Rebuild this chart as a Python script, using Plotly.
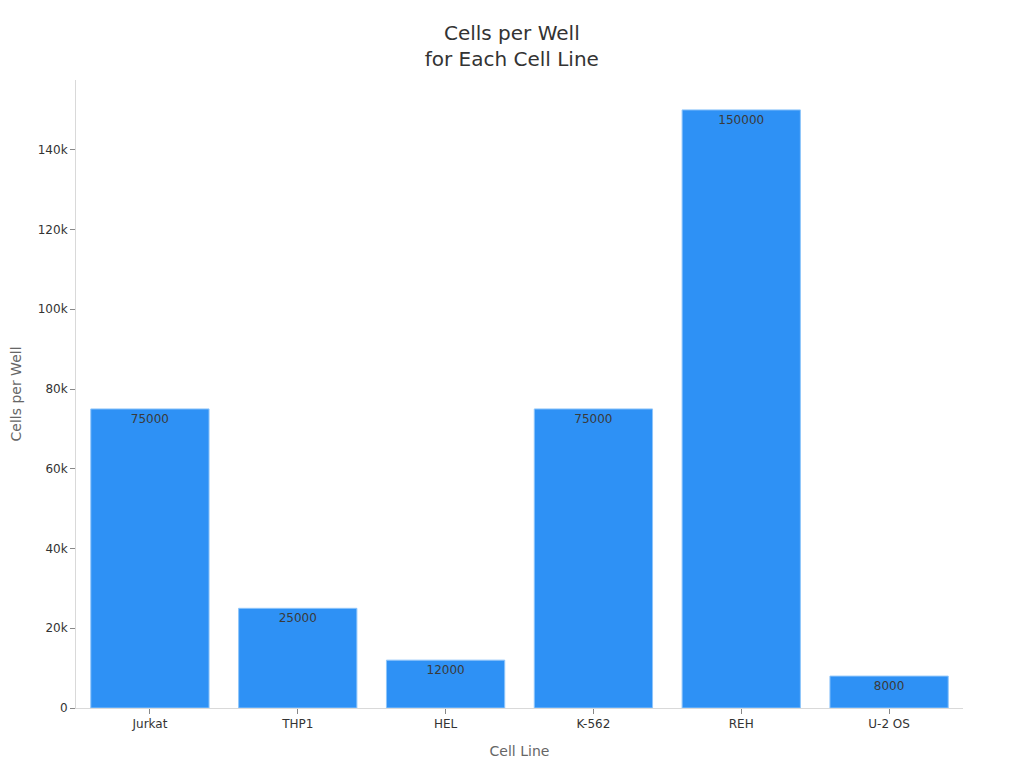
import plotly.graph_objects as go

# data
cell_lines = ['Jurkat', 'THP1', 'HEL', 'K-562', 'REH', 'U-2 OS']
cells_per_well = [75000, 25000, 12000, 75000, 150000, 8000]

bars = go.Bar(
    x=cell_lines,
    y=cells_per_well,
    text=cells_per_well,
    textposition='inside',
    insidetextanchor='end',
    textfont=dict(color='#3a3a3a', size=12),
    marker=dict(color='#2E91F5', line=dict(color='#8EC5FA', width=1)),
    width=0.8,
)

layout = go.Layout(
    width=1024,
    height=768,
    font=dict(family='DejaVu Sans', size=12, color='#333333'),
    title=dict(
        text='Cells per Well<br>for Each Cell Line',
        x=0.492,
        xanchor='center',
        y=0.958,
        yanchor='middle',
        font=dict(size=20, color='#333333'),
    ),
    plot_bgcolor='white',
    paper_bgcolor='white',
    margin=dict(l=68, r=69, t=72, b=68),
    xaxis=dict(
        title=dict(text='Cell Line', font=dict(size=14, color='#666666')),
        showline=True,
        linecolor='#d9d9d9',
        ticks='outside',
        tickcolor='#888888',
        ticklen=5,
        showgrid=False,
    ),
    yaxis=dict(
        title=dict(text='Cells per Well', font=dict(size=14, color='#666666'), standoff=16),
        automargin=False,
        showline=True,
        linecolor='#d9d9d9',
        ticks='outside',
        tickcolor='#888888',
        ticklen=5,
        showgrid=False,
        zeroline=False,
        tickvals=[0, 20000, 40000, 60000, 80000, 100000, 120000, 140000],
        ticktext=['0', '20k', '40k', '60k', '80k', '100k', '120k', '140k'],
        range=[0, 157500],
    ),
    showlegend=False,
)

fig = go.Figure(data=[bars], layout=layout)
fig.write_html('out.html')
